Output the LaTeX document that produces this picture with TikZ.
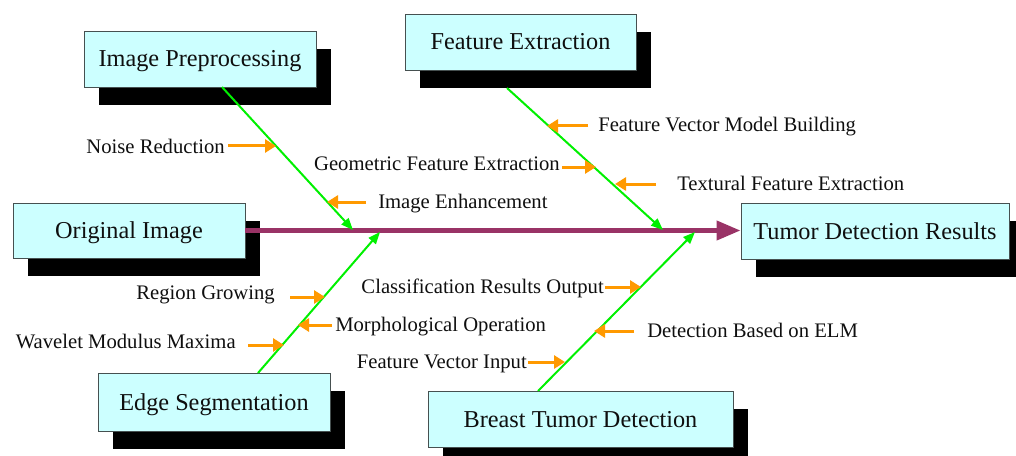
\documentclass[tikz,border=0pt]{standalone}
\usepackage{fontspec}
\setmainfont{Liberation Serif}
\usetikzlibrary{arrows.meta,shadows}
\definecolor{boxfill}{RGB}{204,255,255}
\definecolor{spinecol}{RGB}{153,51,102}
\definecolor{bonegreen}{RGB}{0,240,0}
\definecolor{causeorange}{RGB}{255,153,0}
\definecolor{boxline}{RGB}{70,80,80}
\definecolor{txt}{RGB}{15,15,15}
\begin{document}
\begin{tikzpicture}[x=0.75pt,y=-0.75pt,
 mainbox/.style={draw=boxline, line width=0.6pt, fill=boxfill, inner sep=0pt, text=txt,
   font=\fontsize{18.2}{20}\selectfont, text height=12pt, text depth=0pt,
   general shadow={fill=black, shadow xshift=11.25pt, shadow yshift=-13.5pt}},
 cause/.style={inner sep=0pt, text=txt, font=\fontsize{15.5}{17}\selectfont, text height=10.2pt, text depth=0pt},
 spine/.style={draw=spinecol, line width=3.75pt, -{Triangle[length=18pt,width=14pt]}},
 bone/.style={draw=bonegreen, line width=1.5pt, -{Triangle[length=9pt,width=7pt]}},
 causearrow/.style={draw=causeorange, line width=2.25pt, -{Triangle[length=8.25pt,width=9.75pt]}}]
\useasboundingbox (0,0) rectangle (1016,456);

% main boxes
\node[mainbox, minimum width=174pt, minimum height=42pt] (ip) at (200,59) {Image Preprocessing};
\node[mainbox, minimum width=173.25pt, minimum height=42pt] (fe) at (520.5,42) {Feature Extraction};
\node[mainbox, minimum width=174pt, minimum height=41.25pt] (oi) at (129,230.5) {Original Image};
\node[mainbox, minimum width=201pt, minimum height=42pt] (tdr) at (875,231) {Tumor Detection Results};
\node[mainbox, minimum width=174pt, minimum height=43.5pt] (es) at (214,402) {Edge Segmentation};
\node[mainbox, minimum width=228.75pt, minimum height=42pt] (bt) at (580.5,419) {Breast Tumor Detection};

% spine
\draw[spine] (oi.east) -- (oi.east -| tdr.west);

% bones
\coordinate (ipfoot) at (222,87);
\coordinate (ipjoin) at (353,230);
\coordinate (fefoot) at (507,88);
\coordinate (fejoin) at (663,230);
\coordinate (esfoot) at (258,373);
\coordinate (esjoin) at (380,232);
\coordinate (btfoot) at (538,391);
\coordinate (btjoin) at (695,232);
\draw[bone] (ipfoot) -- (ipjoin);
\draw[bone] (fefoot) -- (fejoin);
\draw[bone] (esfoot) -- (esjoin);
\draw[bone] (btfoot) -- (btjoin);

% cause labels
\node[cause, anchor=east] (nr) at (225,147) {Noise Reduction};
\node[cause, anchor=west] (ie) at (378,202) {Image Enhancement};
\node[cause, anchor=east] (gfe) at (560,164) {Geometric Feature Extraction};
\node[cause, anchor=west] (fvmb) at (598,125) {Feature Vector Model Building};
\node[cause, anchor=west] (tfe) at (677,184) {Textural Feature Extraction};
\node[cause, anchor=east] (rg) at (275,293) {Region Growing};
\node[cause, anchor=west] (mo) at (335,325) {Morphological Operation};
\node[cause, anchor=east] (wmm) at (236,342) {Wavelet Modulus Maxima};
\node[cause, anchor=east] (cro) at (604,287) {Classification Results Output};
\node[cause, anchor=east] (fvi) at (527,362) {Feature Vector Input};
\node[cause, anchor=west] (dbe) at (647,331) {Detection Based on ELM};

% cause arrows
\coordinate (nrA) at (228,146);  \coordinate (nrB) at (276,146);
\coordinate (ieA) at (366,202);  \coordinate (ieB) at (327,202);
\coordinate (gfeA) at (562,167); \coordinate (gfeB) at (596,167);
\coordinate (fvmbA) at (588,126);\coordinate (fvmbB) at (547,126);
\coordinate (tfeA) at (656,184); \coordinate (tfeB) at (615,184);
\coordinate (rgA) at (290,297);  \coordinate (rgB) at (325,297);
\coordinate (moA) at (332,325);  \coordinate (moB) at (298,325);
\coordinate (wmmA) at (248,345); \coordinate (wmmB) at (284,345);
\coordinate (croA) at (605,287); \coordinate (croB) at (641,287);
\coordinate (dbeA) at (634,331); \coordinate (dbeB) at (594,331);
\coordinate (fviA) at (528,362); \coordinate (fviB) at (565,362);
\foreach \c in {nr,ie,gfe,fvmb,tfe,rg,mo,wmm,cro,dbe,fvi}
  \draw[causearrow] (\c A) -- (\c B);
\end{tikzpicture}
\end{document}
